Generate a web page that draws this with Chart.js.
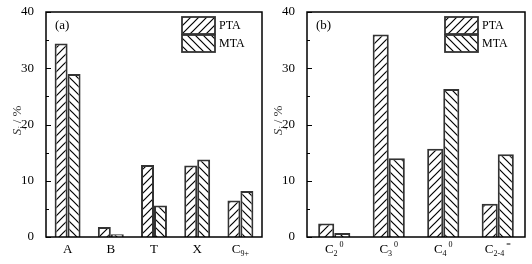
<!DOCTYPE html>
<html>
<head>
<meta charset="utf-8">
<script src="https://cdn.jsdelivr.net/npm/chart.js@4.4.1/dist/chart.umd.min.js"></script>
<style>
 body { margin: 0; background: #fff; }
 .panel { position: absolute; top: 0; width: 266px; height: 264px; }
</style>
</head>
<body>
<div class="panel" style="left:0"><canvas id="chartA" width="266" height="264"></canvas></div>
<div class="panel" style="left:266px"><canvas id="chartB" width="266" height="264"></canvas></div>
<script>
// panel (a): aromatic products   [main, subscript, superscript]
var catsA = [["A", "", ""], ["B", "", ""], ["T", "", ""], ["X", "", ""], ["C", "9+", ""]];
var ptaA = [34.4, 1.8, 12.8, 12.7, 6.5];
var mtaA = [29.0, 0.5, 5.6, 13.8, 8.2];

// panel (b): light hydrocarbons
var catsB = [["C", "2", "0"], ["C", "3", "0"], ["C", "4", "0"], ["C", "2-4", "="]];
var ptaB = [2.4, 36.0, 15.7, 5.9];
var mtaB = [0.7, 14.0, 26.3, 14.7];

var yTicks = [0, 10, 20, 30, 40];
var yMinor = [5, 15, 25, 35];
var seriesNames = ["PTA", "MTA"];

var serif = "'Liberation Serif', 'DejaVu Serif', serif";

function hatch(forward) {
 var s = 8;
 var c = document.createElement("canvas");
 c.width = s;
 c.height = s;
 var g = c.getContext("2d");
 g.fillStyle = "#fff";
 g.fillRect(0, 0, s, s);
 g.strokeStyle = "#000";
 g.lineWidth = 1.2;
 g.beginPath();
 if (forward) {
  g.moveTo(0, s); g.lineTo(s, 0);
  g.moveTo(-1, 1); g.lineTo(1, -1);
  g.moveTo(s - 1, s + 1); g.lineTo(s + 1, s - 1);
 } else {
  g.moveTo(0, 0); g.lineTo(s, s);
  g.moveTo(-1, s - 1); g.lineTo(1, s + 1);
  g.moveTo(s - 1, -1); g.lineTo(s + 1, 1);
 }
 g.stroke();
 return g.createPattern(c, "repeat");
}

var framePlugin = {
 id: "frame",
 afterDraw: function (chart) {
  var o = chart.options.plugins.frame;
  var ctx = chart.ctx;
  var a = chart.chartArea;
  var y = chart.scales.y;
  var x = chart.scales.x;
  ctx.save();
  ctx.strokeStyle = "#000";
  ctx.lineWidth = 1.5;
  ctx.strokeRect(a.left, a.top, a.right - a.left, a.bottom - a.top);

  // inward ticks on the left axis
  ctx.lineWidth = 1;
  ctx.beginPath();
  yTicks.forEach(function (v) {
   var py = Math.round(y.getPixelForValue(v)) + 0.5;
   ctx.moveTo(a.left, py); ctx.lineTo(a.left + 5, py);
  });
  yMinor.forEach(function (v) {
   var py = Math.round(y.getPixelForValue(v)) + 0.5;
   ctx.moveTo(a.left, py); ctx.lineTo(a.left + 3, py);
  });
  ctx.stroke();

  // category labels with sub/superscripts
  ctx.fillStyle = "#000";
  ctx.textBaseline = "alphabetic";
  ctx.textAlign = "left";
  o.cats.forEach(function (c, i) {
   var cx = x.getPixelForValue(i);
   var base = a.bottom + 16;
   ctx.font = "13px " + serif;
   var w0 = ctx.measureText(c[0]).width;
   ctx.font = "8px " + serif;
   var w1 = ctx.measureText(c[1]).width;
   var w2 = ctx.measureText(c[2]).width;
   var total = w0 + w1 + (c[2] ? w2 + 2 : 0);
   var sx = cx - total / 2;
   ctx.font = "13px " + serif;
   ctx.fillText(c[0], sx, base);
   ctx.font = "8px " + serif;
   if (c[1]) ctx.fillText(c[1], sx + w0, base + 3);
   if (c[2]) ctx.fillText(c[2], sx + w0 + w1 + 2, base - 6);
  });

  // y title: S_j / %
  ctx.translate(o.titleX, (a.top + a.bottom) / 2 - 4);
  ctx.rotate(-Math.PI / 2);
  ctx.font = "italic 13px " + serif;
  var ws = ctx.measureText("S").width;
  ctx.font = "8px " + serif;
  var wj = ctx.measureText("j").width;
  ctx.font = "13px " + serif;
  var wr = ctx.measureText(" / %").width;
  var tx = -(ws + wj + wr) / 2;
  ctx.textBaseline = "middle";
  ctx.font = "italic 13px " + serif;
  ctx.fillStyle = "#333";
  ctx.fillText("S", tx, 0);
  ctx.font = "italic 8px " + serif;
  ctx.fillText("j", tx + ws, 4);
  ctx.font = "13px " + serif;
  ctx.fillText(" / %", tx + ws + wj, 0);
  ctx.setTransform(1, 0, 0, 1, 0, 0);

  // panel letter
  ctx.font = "13px " + serif;
  ctx.textBaseline = "middle";
  ctx.fillStyle = "#000";
  ctx.fillText(o.letter, a.left + 9, a.top + 14);

  // legend patches
  chart.data.datasets.forEach(function (ds, i) {
   var lx = o.legendX, ly = a.top + 5 + i * 18;
   ctx.fillStyle = ds.backgroundColor;
   ctx.fillRect(lx, ly, 33, 17);
   ctx.strokeStyle = "#333";
   ctx.lineWidth = 1.8;
   ctx.strokeRect(lx, ly, 33, 17);
   ctx.fillStyle = "#000";
   ctx.font = "12px " + serif;
   ctx.fillText(ds.label, lx + 37, ly + 9);
  });
  ctx.restore();
 }
};

function makeChart(id, cats, pta, mta, opts) {
 var ctx = document.getElementById(id);
 var existing = Chart.getChart(ctx);
 if (existing) {
  existing.destroy();
 }
 return new Chart(ctx, {
  type: "bar",
  data: {
   labels: cats.map(function (c) { return c.join(""); }),
   datasets: [
    {
     label: seriesNames[0],
     data: pta,
     backgroundColor: hatch(true),
     borderColor: "#333",
     borderWidth: 2,
    },
    {
     label: seriesNames[1],
     data: mta,
     backgroundColor: hatch(false),
     borderColor: "#333",
     borderWidth: 2,
    },
   ],
  },
  options: {
   responsive: false,
   animation: false,
   events: [],
   layout: {
    padding: { top: 12, right: opts.padRight, bottom: 0, left: 0 },
   },
   datasets: {
    bar: { barPercentage: 1, categoryPercentage: opts.catPct },
   },
   plugins: {
    legend: { display: false },
    tooltip: { enabled: false },
    frame: {
     cats: cats,
     letter: opts.letter,
     titleX: opts.titleX,
     legendX: opts.legendX,
    },
   },
   scales: {
    x: {
     grid: { display: false },
     border: { display: false },
     ticks: { display: false },
     afterFit: function (scale) {
      scale.height = 27;
     },
    },
    y: {
     min: 0,
     max: 40,
     grid: { display: false },
     border: { display: false },
     ticks: {
      stepSize: 10,
      color: "#000",
      padding: 4,
      font: { family: serif, size: 13 },
     },
     afterFit: function (scale) {
      scale.width = opts.yWidth;
     },
    },
   },
  },
  plugins: [framePlugin],
 });
}

makeChart("chartA", catsA, ptaA, mtaA, {
 letter: "(a)", padRight: 4, yWidth: 46, catPct: 0.6, titleX: 18, legendX: 182,
});
makeChart("chartB", catsB, ptaB, mtaB, {
 letter: "(b)", padRight: 7, yWidth: 41, catPct: 0.59, titleX: 13, legendX: 179,
});
</script>
</body>
</html>
